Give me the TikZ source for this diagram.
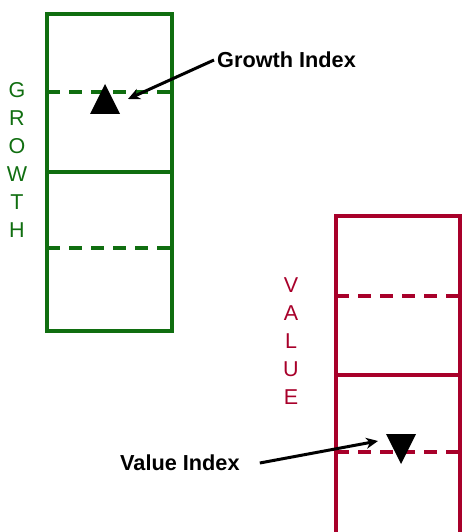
\documentclass[tikz,border=0pt]{standalone}
\usepackage{fontspec}
\setmainfont{Liberation Sans}
\usetikzlibrary{arrows.meta, positioning}
\definecolor{GrowthGreen}{RGB}{16, 110, 16}
\definecolor{ValueRed}{RGB}{168, 0, 42}
\tikzset{
  stack/.style={line width=3.4pt},
  band/.style={line width=3.4pt, dash pattern=on 13pt off 9pt},
  letter/.style={font=\fontsize{21.5}{25}\selectfont, inner sep=0pt},
  tag/.style={font=\fontsize{21.7}{26}\selectfont\bfseries, inner sep=0pt,
    anchor=west, text=black},
  pointer/.style={-{Stealth[length=12pt, width=11pt]}, line width=3pt, color=black},
  marker/.style={fill=black},
}

\begin{document}
\begin{tikzpicture}[x=1pt, y=-1pt]
  \useasboundingbox (0,0) rectangle (463,532);
  \clip (0,0) rectangle (463,532);
  % growth stack
  \draw[stack, GrowthGreen] (47,14) rectangle (172,331);
  \draw[stack, GrowthGreen] (47,172) -- (172,172);
  \draw[band, GrowthGreen] (47,92) -- (172,92);
  \draw[band, GrowthGreen] (47,248) -- (172,248);
  \foreach \ch [count=\i from 0] in {G,R,O,W,T,H}
    \node[letter, text=GrowthGreen] (g\i) at (17,90+28*\i) {\ch};
  \fill[marker] (105,84) -- (90,114) -- (120,114) -- cycle;
  \coordinate (gtip) at (128,99);
  % value stack
  \draw[stack, ValueRed] (336,545) -- (336,216) -- (460,216) -- (460,545);
  \draw[stack, ValueRed] (336,375) -- (460,375);
  \draw[band, ValueRed] (336,296) -- (460,296);
  \draw[band, ValueRed] (336,452) -- (460,452);
  \foreach \ch [count=\i from 0] in {V,A,L,U,E}
    \node[letter, text=ValueRed] (v\i) at (291,285+28*\i) {\ch};
  \fill[marker] (386,434) -- (416,434) -- (401,464) -- cycle;
  \coordinate (vtip) at (378,441);
  % labels
  \node[tag] (gidx) at (217,60) {Growth Index};
  \node[tag] (vidx) at (120,463) {Value Index};
  \draw[pointer] ([xshift=-3pt]gidx.west) -- (gtip);
  \draw[pointer] ([xshift=20pt]vidx.east) -- (vtip);
\end{tikzpicture}
\end{document}
